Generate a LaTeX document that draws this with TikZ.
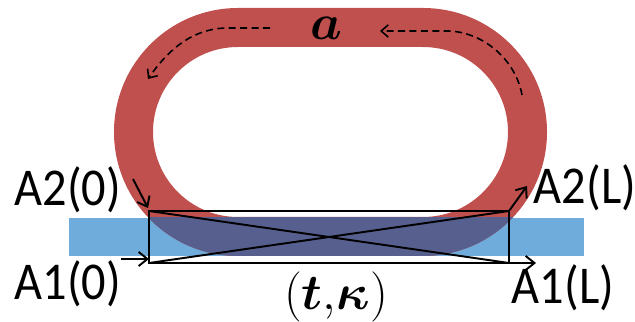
\documentclass[tikz,border=0pt]{standalone}
\usepackage{amsmath,amssymb}
\usepackage{fontspec}
\setmainfont{Carlito}
\usepackage{tikz}
\usetikzlibrary{calc,arrows.meta}
\definecolor{ringred}{HTML}{C0504D}
\definecolor{stripblue}{HTML}{70ACDB}
\definecolor{overlap}{HTML}{575F8F}
\newcommand{\ringpath}{(4.76,6.28)--(8.46,6.28) arc[start angle=90,end angle=-90,radius=2.48]--(4.76,1.32) arc[start angle=270,end angle=90,radius=2.48]--cycle
  (4.76,5.5)--(8.46,5.5) arc[start angle=90,end angle=-90,radius=1.7]--(4.76,2.1) arc[start angle=270,end angle=90,radius=1.7]--cycle}
\tikzset{
  port/.style={font=\fontsize{27.5}{30}\selectfont,inner sep=0pt,yscale=1.1},
  sym/.style={font=\Huge,scale=1.15,inner sep=0pt},
  flow/.style={-{Straight Barb[length=5pt,width=8pt]},line width=1.1pt},
  circ/.style={-{Straight Barb[length=4pt,width=7pt]},line width=.9pt,dash pattern=on 4pt off 2.5pt}
}
\begin{document}
\begin{tikzpicture}
    \useasboundingbox (0,0) rectangle (12.7,6.44);

    \fill[stripblue] (1.38,1.32) rectangle (11.68,2.08);
    \fill[ringred,even odd rule] \ringpath;
    \begin{scope}
      \clip (1.38,1.32) rectangle (11.68,2.08);
      \fill[overlap,even odd rule] \ringpath;
    \end{scope}

    \coordinate (tl) at (2.98,2.22);
    \coordinate (bl) at (2.98,1.18);
    \coordinate (tr) at (10.18,2.22);
    \coordinate (br) at (10.18,1.18);
    \draw[line width=1.2pt] (tl)--(tr)--(br)--(bl)--cycle;
    \draw[line width=1.1pt] (tl)--(br);
    \draw[line width=1.1pt] (bl)--(tr);

    \node[port] (a20) at (1.36,2.64) {A2(0)};
    \node[port] (a10) at (1.36,0.76) {A1(0)};
    \node[port] (a2l) at (11.7,2.68) {A2(L)};
    \node[port] (a1l) at (11.26,0.68) {A1(L)};
    \node[sym] (gain) at (6.52,5.88) {$\boldsymbol{a}$};
    \node[sym] (coup) at (6.72,0.5) {$(\boldsymbol{t}{,}\boldsymbol{\kappa})$};

    \coordinate (in2) at (2.66,2.86);
    \coordinate (in1) at (2.42,1.26);
    \coordinate (out2) at (10.54,2.72);
    \coordinate (out1) at (10.72,1.18);
    \draw[flow] (in2)--($(tl)+(-.02,.06)$);
    \draw[flow] (in1)--($(bl)+(0,.08)$);
    \draw[flow] (tr)--(out2);
    \draw[flow] (br)--(out1);

    \coordinate (c1) at (10.44,4.54);
    \coordinate (c2) at (7.6,5.82);
    \coordinate (c3) at (5.4,5.88);
    \coordinate (c4) at (2.96,4.86);
    \draw[circ] (c1) .. controls (10.3,5.3) and (9.6,5.82) .. (8.94,5.82)--(c2);
    \draw[circ] (c3)--(4.56,5.88) .. controls (3.9,5.88) and (3.4,5.5) .. (c4);
\end{tikzpicture}
\end{document}
